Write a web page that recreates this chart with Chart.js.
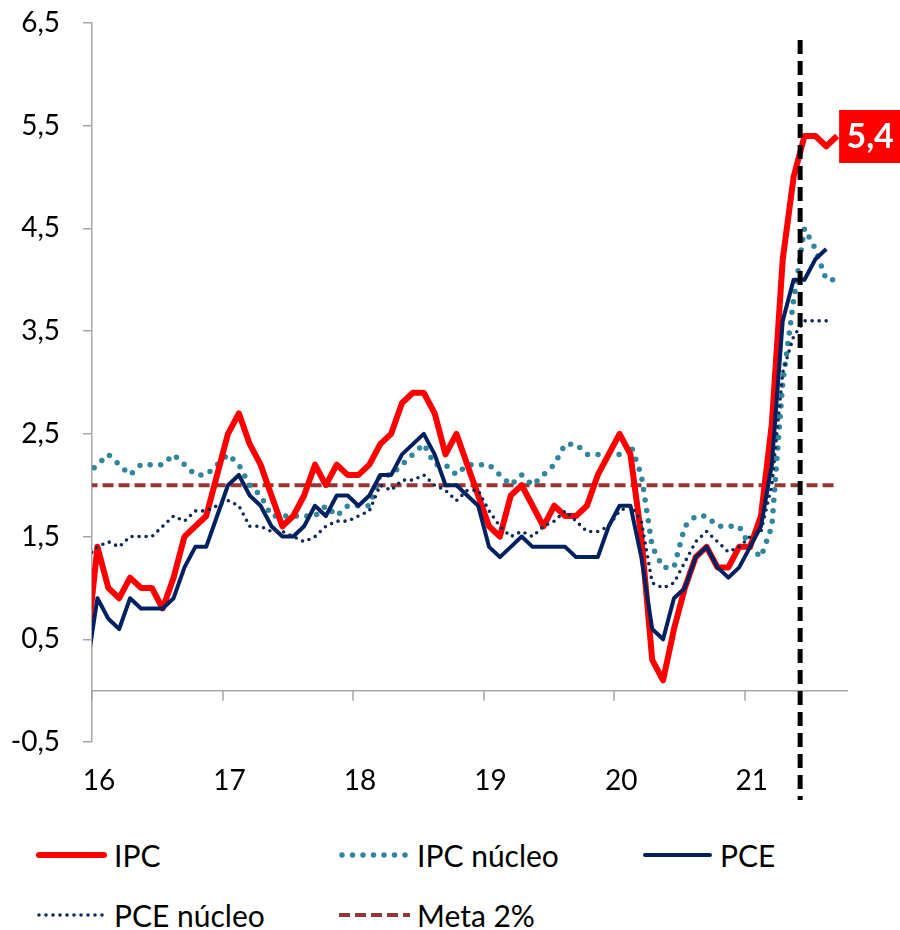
<!DOCTYPE html>
<html lang="es">
<head>
<meta charset="utf-8">
<title>Inflación EE.UU.: IPC y PCE</title>
<script src="https://cdn.jsdelivr.net/npm/chart.js@4.4.1/dist/chart.umd.min.js"></script>
<style>
  body { margin: 0; background: #fff; font-family: Lato, sans-serif; }
  #wrap { position: relative; width: 900px; height: 930px; overflow: hidden; }
  #box { position: absolute; left: 0; top: 0; width: 900px; height: 810px; }
  #legend { position: absolute; left: 0; top: 828px; width: 900px; height: 102px; }
  .item { position: absolute; display: flex; align-items: center; height: 40px; font-size: 30px; color: #000; white-space: nowrap; }
  .item canvas { margin-right: 7px; }
</style>
</head>
<body>
<div id="wrap">
  <div id="box"><canvas id="chart"></canvas></div>
  <div id="legend"></div>
</div>
<script>
// meses: dic-15 ... sep-21 (indice 0 = ene-16)
const monthNames = ['ene', 'feb', 'mar', 'abr', 'may', 'jun', 'jul', 'ago', 'sep', 'oct', 'nov', 'dic'];
const months = ['dic-15'];
for (let yr = 16; yr <= 21; yr++) {
    for (let m = 0; m < 12; m++) {
        if (yr < 21 || m < 9) months.push(monthNames[m] + '-' + yr);
    }
}

// variacion anual, %
const ipc = [0.4,
    1.4, 1.0, 0.9, 1.1, 1.0, 1.0, 0.8, 1.1, 1.5, 1.6, 1.7, 2.1,
    2.5, 2.7, 2.4, 2.2, 1.9, 1.6, 1.7, 1.9, 2.2, 2.0, 2.2, 2.1,
    2.1, 2.2, 2.4, 2.5, 2.8, 2.9, 2.9, 2.7, 2.3, 2.5, 2.2, 1.9,
    1.6, 1.5, 1.9, 2.0, 1.8, 1.6, 1.8, 1.7, 1.7, 1.8, 2.1, 2.3,
    2.5, 2.3, 1.5, 0.3, 0.1, 0.6, 1.0, 1.3, 1.4, 1.2, 1.2, 1.4,
    1.4, 1.7, 2.6, 4.2, 5.0, 5.4, 5.4, 5.3, 5.4];

const ipcCore = [2.1,
    2.2, 2.3, 2.2, 2.1, 2.2, 2.2, 2.2, 2.3, 2.2, 2.1, 2.1, 2.2,
    2.3, 2.2, 2.0, 1.9, 1.7, 1.7, 1.7, 1.7, 1.7, 1.8, 1.7, 1.8,
    1.8, 1.8, 2.1, 2.1, 2.2, 2.3, 2.4, 2.2, 2.2, 2.1, 2.2, 2.2,
    2.2, 2.1, 2.0, 2.1, 2.0, 2.1, 2.2, 2.4, 2.4, 2.3, 2.3, 2.3,
    2.3, 2.4, 2.1, 1.4, 1.2, 1.2, 1.6, 1.7, 1.7, 1.6, 1.6, 1.6,
    1.4, 1.3, 1.6, 3.0, 3.8, 4.5, 4.3, 4.0, 4.0];

const pce = [0.2,
    0.9, 0.7, 0.6, 0.9, 0.8, 0.8, 0.8, 0.9, 1.2, 1.4, 1.4, 1.7,
    2.0, 2.1, 1.9, 1.8, 1.6, 1.5, 1.5, 1.6, 1.8, 1.7, 1.9, 1.9,
    1.8, 1.9, 2.1, 2.1, 2.3, 2.4, 2.5, 2.3, 2.0, 2.0, 1.9, 1.8,
    1.4, 1.3, 1.4, 1.5, 1.4, 1.4, 1.4, 1.4, 1.3, 1.3, 1.3, 1.6,
    1.8, 1.8, 1.3, 0.6, 0.5, 0.9, 1.0, 1.3, 1.4, 1.2, 1.1, 1.2,
    1.4, 1.6, 2.2, 3.6, 4.0, 4.0, 4.2, 4.3];

const pceCore = [1.3,
    1.4, 1.45, 1.4, 1.5, 1.5, 1.5, 1.6, 1.7, 1.65, 1.75, 1.75, 1.8,
    1.85, 1.8, 1.6, 1.6, 1.55, 1.55, 1.5, 1.45, 1.5, 1.6, 1.65, 1.65,
    1.7, 1.75, 2.0, 1.95, 2.05, 2.05, 2.1, 2.0, 1.95, 1.85, 1.95, 1.95,
    1.75, 1.6, 1.5, 1.55, 1.5, 1.6, 1.65, 1.75, 1.65, 1.55, 1.55, 1.6,
    1.75, 1.8, 1.65, 1.05, 1.0, 1.05, 1.25, 1.45, 1.55, 1.45, 1.35, 1.4,
    1.5, 1.55, 2.0, 3.1, 3.45, 3.6, 3.6, 3.6];

const meta = 2;

const yTicks = [-0.5, 0.5, 1.5, 2.5, 3.5, 4.5, 5.5, 6.5];
const yearLabels = ['16', '17', '18', '19', '20', '21'];
const yearStarts = ['ene-16', 'ene-17', 'ene-18', 'ene-19', 'ene-20', 'ene-21'];
const cutMonth = 64.6; // linea vertical, mediados de 2021

const toPoints = arr => arr.map((v, i) => ({ x: i - 1, y: v }));
const fmt = v => v.toFixed(1).replace('.', ',');

const extras = {
    id: 'extras',
    beforeDatasetsDraw(chart) {
        const { ctx, chartArea, scales: { x, y } } = chart;
        const y0 = y.getPixelForValue(0);
        ctx.save();
        ctx.strokeStyle = '#A6A6A6';
        ctx.lineWidth = 1.5;
        ctx.beginPath();
        ctx.moveTo(chartArea.left, y0);
        ctx.lineTo(chartArea.right, y0);
        x.ticks.forEach(t => {
            const px = Math.round(x.getPixelForValue(t.value));
            ctx.moveTo(px, y0);
            ctx.lineTo(px, y0 + 10);
        });
        ctx.stroke();
        ctx.restore();
    },
    afterDatasetsDraw(chart) {
        const { ctx, chartArea, scales: { x } } = chart;
        ctx.save();
        // linea vertical negra
        const cx = x.getPixelForValue(cutMonth);
        ctx.strokeStyle = '#000';
        ctx.lineWidth = 5;
        ctx.setLineDash([14, 7]);
        ctx.beginPath();
        ctx.moveTo(cx, chartArea.top + 17);
        ctx.lineTo(cx, chartArea.bottom + 58);
        ctx.stroke();
        ctx.setLineDash([]);

        // etiqueta del ultimo dato de IPC
        const pts = chart.getDatasetMeta(0).data;
        const last = pts[pts.length - 1];
        ctx.fillStyle = '#FF0000';
        ctx.fillRect(last.x + 2, last.y - 26, 61, 53);
        ctx.fillStyle = '#fff';
        ctx.font = 'bold 34px Lato';
        ctx.textAlign = 'center';
        ctx.textBaseline = 'middle';
        ctx.fillText(fmt(ipc[ipc.length - 1]), last.x + 33, last.y + 1);
        ctx.restore();
    }
};

const ctx = document.getElementById('chart').getContext('2d');
const chart = new Chart(ctx, {
    type: 'line',
    data: {
        datasets: [{
            label: 'IPC',
            data: toPoints(ipc),
            borderColor: '#FF0000',
            borderWidth: 6,
            order: 2
        }, {
            label: 'IPC núcleo',
            data: toPoints(ipcCore),
            borderColor: '#31859C',
            borderWidth: 5.5,
            borderDash: [0, 10.5],
            borderCapStyle: 'round',
            order: 3
        }, {
            label: 'PCE',
            data: toPoints(pce),
            borderColor: '#002060',
            borderWidth: 4,
            order: 1
        }, {
            label: 'PCE núcleo',
            data: toPoints(pceCore),
            borderColor: '#0F2A5A',
            borderWidth: 3.6,
            borderDash: [0, 7],
            borderCapStyle: 'round',
            order: 0
        }, {
            label: 'Meta 2%',
            data: [{ x: -1, y: meta }, { x: months.length - 2, y: meta }],
            borderColor: '#953735',
            borderWidth: 4,
            borderDash: [11, 5],
            order: 5
        }]
    },
    options: {
        responsive: true,
        maintainAspectRatio: false,
        animation: false,
        events: [],
        layout: { padding: { top: 23, right: 52, left: 0, bottom: 0 } },
        elements: {
            point: { radius: 0 },
            line: { tension: 0, borderJoinStyle: 'round' }
        },
        plugins: {
            legend: { display: false },
            tooltip: { enabled: false }
        },
        scales: {
            x: {
                type: 'linear',
                min: -0.5,
                max: 69,
                afterBuildTicks: scale => {
                    scale.ticks = yearStarts.map(m => ({ value: months.indexOf(m) - 1.5 }));
                },
                afterFit: scale => {
                    scale.height = 68;
                    scale.paddingLeft = 0;
                    scale.paddingRight = 0;
                },
                grid: { display: false, drawTicks: false },
                border: { display: false },
                ticks: {
                    autoSkip: false,
                    maxRotation: 0,
                    labelOffset: 7,
                    padding: 22,
                    color: '#000',
                    font: { family: 'Lato', size: 28 },
                    callback: (v, i) => yearLabels[i]
                }
            },
            y: {
                min: -0.5,
                max: 6.5,
                afterBuildTicks: scale => {
                    scale.ticks = yTicks.map(v => ({ value: v }));
                },
                afterFit: scale => {
                    scale.width = 92;
                    scale.paddingTop = 0;
                    scale.paddingBottom = 0;
                },
                grid: {
                    drawOnChartArea: false,
                    drawTicks: true,
                    tickLength: 9,
                    color: '#A6A6A6',
                    lineWidth: 1.5
                },
                border: { display: true, color: '#A6A6A6', width: 1.5 },
                ticks: {
                    padding: 23,
                    color: '#000',
                    font: { family: 'Lato', size: 28 },
                    callback: v => fmt(v)
                }
            }
        }
    },
    plugins: [extras]
});

// leyenda en tres columnas
const legend = document.getElementById('legend');
chart.data.datasets.forEach((ds, i) => {
    const item = document.createElement('div');
    item.className = 'item';
    item.style.left = (36 + (i % 3) * 303) + 'px';
    item.style.top = (7 + Math.floor(i / 3) * 60) + 'px';

    const c = document.createElement('canvas');
    c.width = 71;
    c.height = 14;
    const g = c.getContext('2d');
    g.strokeStyle = ds.borderColor;
    g.lineWidth = ds.borderWidth;
    if (ds.borderDash) {
        g.setLineDash(ds.borderDash);
        g.lineCap = ds.borderCapStyle || 'butt';
        g.beginPath();
        g.moveTo(ds.borderCapStyle === 'round' ? 3 : 0, 7);
        g.lineTo(71, 7);
    } else {
        g.lineCap = 'round';
        g.beginPath();
        g.moveTo(3, 7);
        g.lineTo(68, 7);
    }
    g.stroke();

    const span = document.createElement('span');
    span.textContent = ds.label;
    item.appendChild(c);
    item.appendChild(span);
    legend.appendChild(item);
});
</script>
</body>
</html>
